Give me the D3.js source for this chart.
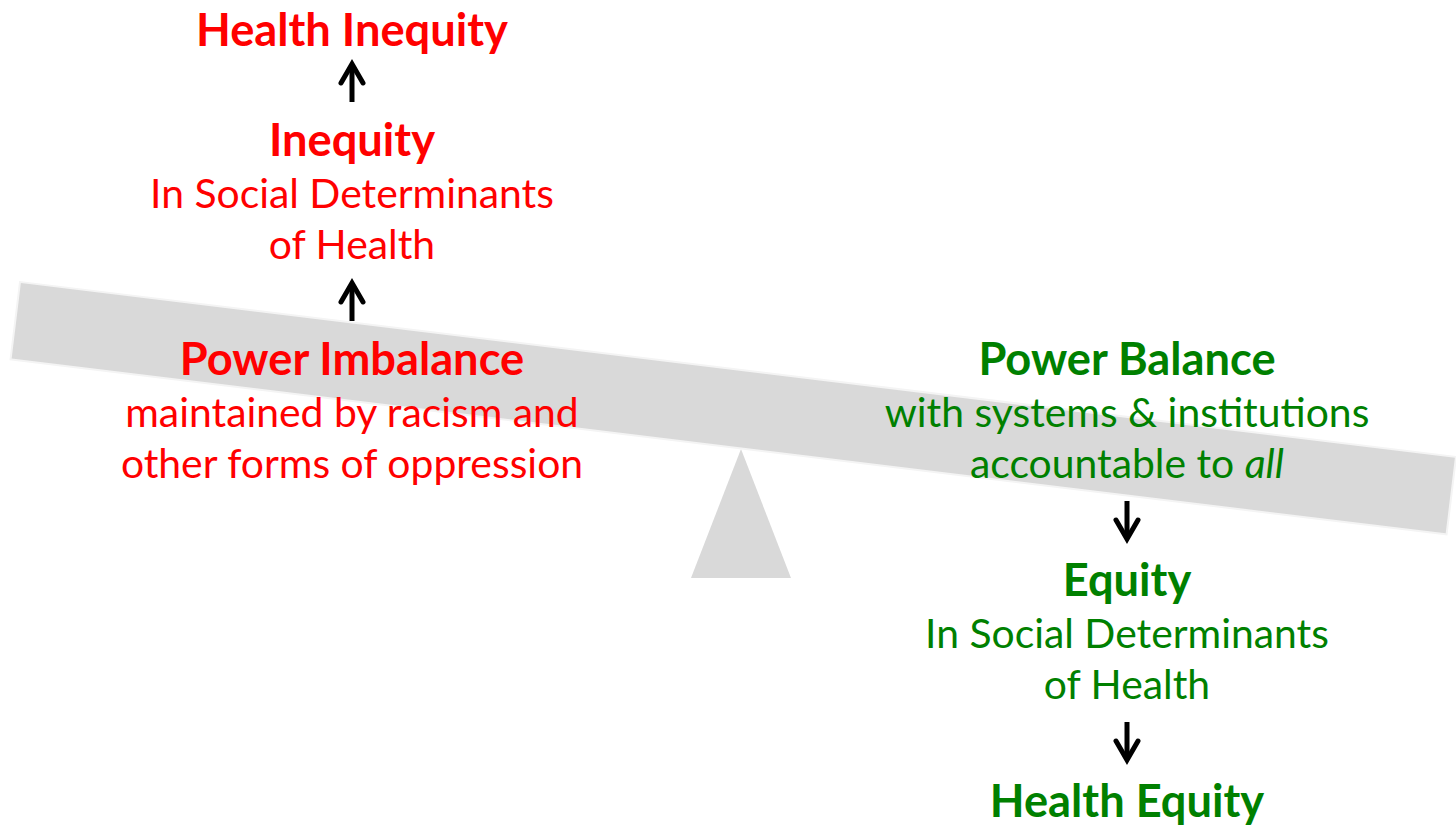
<!DOCTYPE html>
<html>
<head>
<meta charset="utf-8">
<script src="https://cdn.jsdelivr.net/npm/d3@7"></script>
<style>
  html, body { margin: 0; padding: 0; background: #fff; }
  svg { display: block; }
</style>
</head>
<body>
<svg id="chart" width="1456" height="828"></svg>
<script>
// text content of the two sides
const leftLines = [
  { text: 'Health Inequity', bold: true },
  { arrow: 'up' },
  { text: 'Inequity', bold: true },
  { text: 'In Social Determinants' },
  { text: 'of Health' },
  { arrow: 'up' },
  { text: 'Power Imbalance', bold: true },
  { text: 'maintained by racism and' },
  { text: 'other forms of oppression' }
];
const rightLines = [
  { text: 'Power Balance', bold: true },
  { parts: [{ t: 'with systems & institutions' }] },
  { parts: [{ t: 'accountable to ' }, { t: 'all', italic: true }] },
  { arrow: 'down' },
  { text: 'Equity', bold: true },
  { text: 'In Social Determinants' },
  { text: 'of Health' },
  { arrow: 'down' },
  { text: 'Health Equity', bold: true }
];

const red = '#ff0000';
const green = '#008000';
const grey = '#d9d9d9';
const fontFamily = 'Lato, "Open Sans", sans-serif';

const svg = d3.select('#chart');
const height = +svg.attr('height');

// seesaw geometry
const beamLeftTop = [20, 282];
const beamRightTop = [1456, 457];
const beamThick = 78;
const fulcrum = { apex: [741, 449], baseY: 578, half: 50 };

// fit font sizes to the reference line widths
function fitSize(str, weight, target) {
  const t = svg.append('text')
    .attr('font-family', fontFamily)
    .attr('font-weight', weight)
    .attr('font-size', 40)
    .text(str);
  const w = t.node().getComputedTextLength();
  t.remove();
  return 40 * target / w;
}
const regSize = fitSize('In Social Determinants', 400, 404);
const boldSize = fitSize('Health Inequity', 700, 312);

// fulcrum
svg.append('path')
  .attr('d', d3.line()([
    fulcrum.apex,
    [fulcrum.apex[0] + fulcrum.half, fulcrum.baseY],
    [fulcrum.apex[0] - fulcrum.half, fulcrum.baseY]
  ]) + 'Z')
  .attr('fill', grey);

// beam
const dx = beamRightTop[0] - beamLeftTop[0];
const dy = beamRightTop[1] - beamLeftTop[1];
const angle = Math.atan2(dy, dx) * 180 / Math.PI;
const beamLen = Math.sqrt(dx * dx + dy * dy);
svg.append('rect')
  .attr('x', 0)
  .attr('y', 0)
  .attr('width', beamLen)
  .attr('height', beamThick)
  .attr('transform', `translate(${beamLeftTop[0]},${beamLeftTop[1]}) rotate(${angle})`)
  .attr('fill', grey)
  .attr('stroke', '#f4f4f4')
  .attr('stroke-width', 2);

// vertical layout: text lines 51.5px apart, arrows take a taller slot
function layout(lines, y0, lineGap, arrowGap) {
  let y = y0;
  return lines.map((d, i) => {
    if (i > 0) {
      const prev = lines[i - 1];
      y += (d.arrow || prev.arrow) ? arrowGap / 2 : lineGap;
    }
    return Object.assign({}, d, { y: y });
  });
}

function drawColumn(lines, cx, color) {
  const g = svg.append('g');
  lines.forEach(d => {
    if (d.arrow) {
      // arrow sits a little above the middle of its slot
      const up = d.arrow === 'up';
      const yTop = d.y - 36, yBot = d.y + 4;
      const tip = up ? yTop : yBot;
      const tail = up ? yBot : yTop;
      const head = up ? tip + 21 : tip - 21;
      g.append('path')
        .attr('d', d3.line()([[cx, tail], [cx, tip + (up ? 2 : -2)]]))
        .attr('stroke', '#000')
        .attr('stroke-width', 5)
        .attr('fill', 'none');
      g.append('path')
        .attr('d', d3.line()([[cx - 11, head], [cx, tip + (up ? 2 : -2)], [cx + 11, head]]))
        .attr('stroke', '#000')
        .attr('stroke-width', 5)
        .attr('stroke-linejoin', 'miter')
        .attr('stroke-linecap', 'round')
        .attr('fill', 'none');
      return;
    }
    const t = g.append('text')
      .attr('x', cx)
      .attr('y', d.y)
      .attr('text-anchor', 'middle')
      .attr('font-family', fontFamily)
      .attr('fill', color)
      .attr('font-weight', d.bold ? 700 : 400)
      .attr('font-size', d.bold ? boldSize : regSize);
    if (d.parts) {
      d.parts.forEach(p => {
        t.append('tspan')
          .attr('font-style', p.italic ? 'italic' : 'normal')
          .text(p.t);
      });
    } else {
      t.text(d.text);
    }
  });
  return g;
}

const left = layout(leftLines, 40, 51.5, 116);
const right = layout(rightLines, 375, 51.5, 118);

// keep the first and last titles fully inside the frame
left[0].y = Math.max(left[0].y, Math.ceil(boldSize * 0.99) + 1);
const last = right[right.length - 1];
last.y = Math.min(last.y, height - Math.ceil(boldSize * 0.22) - 1);

drawColumn(left, 352, red);
drawColumn(right, 1127, green);
</script>
</body>
</html>
